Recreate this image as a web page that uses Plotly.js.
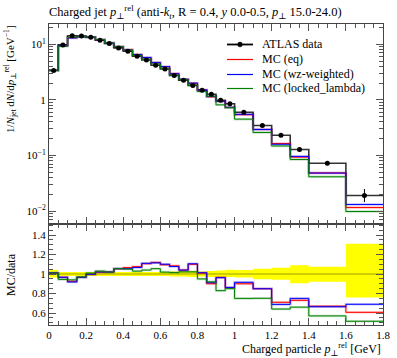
<!DOCTYPE html>
<html>
<head>
<meta charset="utf-8">
<script src="https://cdn.plot.ly/plotly-3.0.1.min.js"></script>
<style>html,body{margin:0;padding:0;background:#fff;}#chart{width:397px;height:358px;}</style>
</head>
<body>
<div id="chart"></div>
<script>
// Bin edges (GeV)
const binEdges = [0,0.05,0.1,0.15,0.2,0.25,0.3,0.35,0.4,0.45,0.5,0.55,0.6,0.65,0.7,0.75,0.8,0.85,0.9,0.95,1.0,1.1,1.2,1.3,1.4,1.6,1.8];
// ATLAS data values
const dataVals = [3.37,9.75,14.2,14.1,13.4,11.8,10.3,8.6,7.5,6.1,5.2,4.2,3.6,2.74,2.25,1.81,1.49,1.26,0.98,0.85,0.60,0.345,0.231,0.128,0.0724,0.019];
// Relative data uncertainty band (upper / lower, as ratio to data)
const bandUp = [1.045,1.02,1.02,1.02,1.02,1.02,1.02,1.02,1.02,1.02,1.02,1.02,1.02,1.025,1.025,1.03,1.025,1.03,1.035,1.045,1.04,1.055,1.065,1.09,1.075,1.31];
const bandLo = [0.965,0.98,0.98,0.98,0.98,0.98,0.98,0.98,0.98,0.98,0.98,0.98,0.98,0.975,0.975,0.97,0.975,0.97,0.97,0.97,0.965,0.945,0.94,0.905,0.92,0.76];
// MC predictions
const mcEq = [3.40,9.42,13.14,13.62,13.33,12.04,10.51,9.07,7.99,6.56,5.75,4.70,3.94,2.97,2.34,1.99,1.505,1.134,0.946,0.731,0.540,0.293,0.164,0.0934,0.0485,0.01153];
const mcWz = [3.41,9.42,13.04,13.62,13.36,12.04,10.51,9.07,7.91,6.51,5.77,4.68,3.96,2.95,2.34,2.00,1.51,1.147,0.943,0.733,0.549,0.293,0.159,0.096,0.0481,0.0131];
const mcLocked = [3.40,9.21,13.35,13.68,13.53,12.15,10.51,9.07,7.88,6.28,5.41,4.43,3.67,2.78,2.30,1.85,1.415,1.159,0.813,0.7225,0.450,0.259,0.148,0.0845,0.0413,0.00979];
const legendNames = ['ATLAS data','MC (eq)','MC (wz-weighted)','MC (locked_lambda)'];
const seriesNames = ['MC (eq)','MC (wz-weighted)','MC (locked_lambda)'];
const seriesColors = ['#ff0000','#0000ff','#008000'];
const seriesBand = ['rgba(255,0,0,0.22)','rgba(0,0,255,0.22)','rgba(0,128,0,0.22)'];
const xTickVals = [0,0.2,0.4,0.6,0.8,1,1.2,1.4,1.6,1.8];
const xTickText = ['0','0.2','0.4','0.6','0.8','1','1.2','1.4','1.6','1.8'];
const yTickVals = [0.01,0.1,1,10];
const yTickText = ['10<sup>−2</sup>','10<sup>−1</sup>','1','10<sup>1</sup>'];
const rTickVals = [0.6,0.8,1,1.2,1.4];
const rTickText = ['0.6','0.8','1','1.2','1.4'];

function stepY(v){ return v.concat([v[v.length-1]]); }
const centers = binEdges.slice(0,-1).map((e,i)=> (e+binEdges[i+1])/2);

const FONT = 'Liberation Serif, DejaVu Serif, serif';
const traces = [];

const pe = dataVals.map((v,i)=>v*(bandUp[i]-1));
const pem = dataVals.map((v,i)=>v*(1-bandLo[i]));
const mcs = [mcEq, mcWz, mcLocked];

// pale MC bands
mcs.forEach((m,k)=>{
  traces.push({x:binEdges, y:stepY(m), mode:'lines', line:{shape:'hv', color:seriesBand[k], width:2.5}, xaxis:'x', yaxis:'y', hoverinfo:'skip'});
});
// data step
traces.push({x:binEdges, y:stepY(dataVals), mode:'lines', line:{shape:'hv', color:'rgba(0,0,0,0.8)', width:1.6}, xaxis:'x', yaxis:'y', hoverinfo:'skip'});
mcs.forEach((m,k)=>{
  traces.push({x:binEdges, y:stepY(m), mode:'lines', name:seriesNames[k], line:{shape:'hv', color:seriesColors[k], width:1}, xaxis:'x', yaxis:'y'});
});
traces.push({x:centers, y:dataVals, mode:'markers', name:'ATLAS data',
  marker:{color:'#000', size:5},
  error_y:{type:'data', array:pe, arrayminus:pem, color:'#000', thickness:1, width:0},
  xaxis:'x', yaxis:'y'});

// ratio panel
traces.push({x:binEdges, y:stepY(bandLo), mode:'lines', line:{shape:'hv', width:0, color:'rgba(0,0,0,0)'}, xaxis:'x2', yaxis:'y2', hoverinfo:'skip'});
traces.push({x:binEdges, y:stepY(bandUp), mode:'lines', line:{shape:'hv', width:0, color:'rgba(0,0,0,0)'}, fill:'tonexty', fillcolor:'#ffff00', xaxis:'x2', yaxis:'y2', hoverinfo:'skip'});
const ones = dataVals.map(v=>v/v);
traces.push({x:binEdges, y:stepY(ones), mode:'lines', line:{shape:'hv', color:'rgba(60,60,0,0.5)', width:1}, xaxis:'x2', yaxis:'y2', hoverinfo:'skip'});
mcs.forEach((m,k)=>{
  const r = m.map((v,i)=>v/dataVals[i]);
  traces.push({x:binEdges, y:stepY(r), mode:'lines', line:{shape:'hv', color:seriesBand[k], width:2.5}, xaxis:'x2', yaxis:'y2', hoverinfo:'skip'});
});
mcs.forEach((m,k)=>{
  const r = m.map((v,i)=>v/dataVals[i]);
  traces.push({x:binEdges, y:stepY(r), mode:'lines', line:{shape:'hv', color:seriesColors[k], width:1}, xaxis:'x2', yaxis:'y2', hoverinfo:'skip'});
});

// minor ticks for log axis
const logMinor = [];
[0.001,0.01,0.1,1,10].forEach(d=>{ for(let j=2;j<=9;j++) logMinor.push(d*j); });

const axCommon = {showline:true, linecolor:'#444', linewidth:1, mirror:'allticks', ticks:'inside', tickcolor:'#555', showgrid:false, zeroline:false, tickfont:{family:FONT, size:11, color:'#000'}};
const split = 101/301;

// manual legend (pixel layout -> paper coords)
const PX = x => (x-49)/334, PY = y => (325-y)/301;
const legY = [44, 59, 74, 88];
const legColors = ['#000000','#ff0000','#0000ff','#008000'];
const shapes = [], annotations = [];
legendNames.forEach((nm,i)=>{
  shapes.push({type:'line', xref:'paper', yref:'paper', x0:PX(227), x1:PX(253), y0:PY(legY[i]+0.5), y1:PY(legY[i]+0.5),
    line:{color:legColors[i], width:i===0?1.8:1.2}});
  annotations.push({text:nm, xref:'paper', yref:'paper', x:PX(260), y:PY(legY[i]), xanchor:'left', yanchor:'middle', showarrow:false,
    font:{family:FONT, size:12, color:'#000'}});
});
shapes.push({type:'circle', xref:'paper', yref:'paper', x0:PX(237.6), x1:PX(242.4), y0:PY(legY[0]+2.9), y1:PY(legY[0]-1.9), fillcolor:'#000', line:{color:'#000', width:0.5}});

annotations.push(
  {text:'1/<i>N</i><sub>jet</sub> d<i>N</i>/d<i>p</i><sub>⊥</sub><sup>rel</sup> [GeV<sup>−1</sup>]', textangle:-90, xref:'paper', yref:'paper',
    x:PX(10), y:PY(23), xanchor:'center', yanchor:'top', showarrow:false, font:{family:FONT, size:11, color:'#000'}},
  {text:'MC/data', textangle:-90, xref:'paper', yref:'paper', x:PX(11), y:PY(275), xanchor:'center', yanchor:'middle', showarrow:false, font:{family:FONT, size:12, color:'#000'}},
  {text:'Charged particle <i>p</i><sub>⊥</sub><sup>rel</sup> [GeV]', xref:'paper', yref:'paper', x:1, y:PY(349), xanchor:'right', yanchor:'middle', showarrow:false, font:{family:FONT, size:12, color:'#000'}}
);

const layout = {
  width:397, height:358,
  margin:{l:49, r:14, t:24, b:33, pad:0},
  paper_bgcolor:'#fff', plot_bgcolor:'#fff',
  font:{family:FONT, color:'#000'},
  title:{text:'Charged jet <i>p</i><sub>⊥</sub><sup>rel</sup> (anti-<i>k</i><sub><i>t</i></sub>, R = 0.4, <i>y</i> 0.0-0.5, <i>p</i><sub>⊥</sub> 15.0-24.0)',
    x:49/397, xanchor:'left', y:1-12/358, yanchor:'middle', font:{family:FONT, size:12.5, color:'#000'}},
  showlegend:false,
  xaxis:Object.assign({}, axCommon, {domain:[0,1], range:[0,1.8], anchor:'y', showticklabels:false, tickmode:'array', tickvals:xTickVals, ticklen:7,
     minor:{tickmode:'linear', tick0:0, dtick:0.05, ticklen:4, ticks:'inside', tickcolor:'#555'}}),
  yaxis:Object.assign({}, axCommon, {domain:[split,1], type:'log', range:[-2.234,1.365], anchor:'x', tickmode:'array', tickvals:yTickVals, ticktext:yTickText, ticklen:7,
     minor:{tickmode:'array', tickvals:logMinor, ticklen:4, ticks:'inside', tickcolor:'#555'}}),
  xaxis2:Object.assign({}, axCommon, {domain:[0,1], range:[0,1.8], anchor:'y2', tickmode:'array', tickvals:xTickVals, ticktext:xTickText, ticklen:7, ticklabelstandoff:0,
     minor:{tickmode:'linear', tick0:0, dtick:0.05, ticklen:4, ticks:'inside', tickcolor:'#555'}}),
  yaxis2:Object.assign({}, axCommon, {domain:[0,split], range:[0.477,1.513], anchor:'x2', tickmode:'array', tickvals:rTickVals, ticktext:rTickText, ticklen:7,
     minor:{tickmode:'linear', tick0:0, dtick:0.05, ticklen:4, ticks:'inside', tickcolor:'#555'}}),
  shapes: shapes,
  annotations: annotations
};

Plotly.newPlot('chart', traces, layout, {staticPlot:true, displayModeBar:false});
</script>
</body>
</html>
